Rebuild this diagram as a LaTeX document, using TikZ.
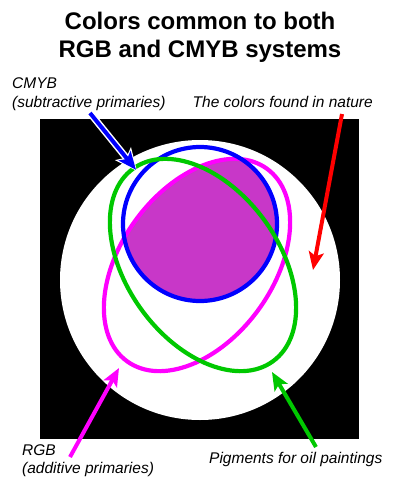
\documentclass[tikz,border=0pt]{standalone}
\usepackage{fontspec}
\setmainfont{Liberation Sans}
\usetikzlibrary{arrows.meta}
\definecolor{fillpurple}{RGB}{200,55,200}
\definecolor{mag}{RGB}{255,0,255}
\definecolor{grn}{RGB}{0,200,0}
\definecolor{blu}{RGB}{0,0,255}
\definecolor{rd}{RGB}{255,0,0}
\begin{document}
\begin{tikzpicture}[x=1pt,y=-1pt,
  titletext/.style={font=\fontsize{24}{28}\selectfont\bfseries, inner sep=0pt, anchor=base},
  labeltext/.style={font=\fontsize{15.5}{18}\selectfont\itshape, inner sep=0pt, anchor=base west, align=left},
  ring/.style={line width=4.2pt},
  pointer/.style={line width=4pt, -{Stealth[length=18pt,width=15pt,inset=4pt]}},
]
\useasboundingbox (0,0) rectangle (400,480);
% background
\fill[black] (40,119) rectangle (359,439);
\fill[white] (200,280) circle [radius=140];
% purple intersection
\begin{scope}
  \clip (200,224) circle [radius=77];
  \fill[fillpurple, rotate around={54:(197,265)}] (197,265) ellipse [x radius=119, y radius=76];
\end{scope}
% rings
\draw[ring, mag, rotate around={54:(197,265)}] (197,265) ellipse [x radius=119, y radius=76];
\draw[ring, blu] (200,224) circle [radius=77];
\draw[ring, grn, rotate around={-54:(203,265)}] (203,265) ellipse [x radius=119, y radius=76];
% title
\node[titletext] (t1) at (200,29) {Colors common to both};
\node[titletext] (t2) at (200,57) {RGB and CMYB systems};
% labels
\node[labeltext] (cmyb) at (12,88) {CMYB};
\node[labeltext] (cmybsub) at (12,107) {(subtractive primaries)};
\node[labeltext, anchor=base east] (nature) at (373,107) {The colors found in nature};
\node[labeltext] (rgb) at (22,455) {RGB};
\node[labeltext] (rgbsub) at (22,473) {(additive primaries)};
\node[labeltext] (oil) at (209,463) {Pigments for oil paintings};
% arrow ends
\coordinate (bt) at (90,113);
\coordinate (bh) at (137,171);
\coordinate (rt) at (342,114);
\coordinate (rh) at (313,270);
\coordinate (mt) at (70,457);
\coordinate (mh) at (119,368);
\coordinate (gt) at (316,447);
\coordinate (gh) at (272,372);
% arrows
\draw[line width=7pt, white, -{Stealth[length=22pt,width=20pt,inset=5pt]}] (bt) -- (bh);
\draw[pointer, blu, shorten >=1.5pt] (bt) -- (bh);
\draw[pointer, rd] (rt) -- (rh);
\draw[pointer, mag] (mt) -- (mh);
\draw[pointer, grn] (gt) -- (gh);
\end{tikzpicture}
\end{document}
